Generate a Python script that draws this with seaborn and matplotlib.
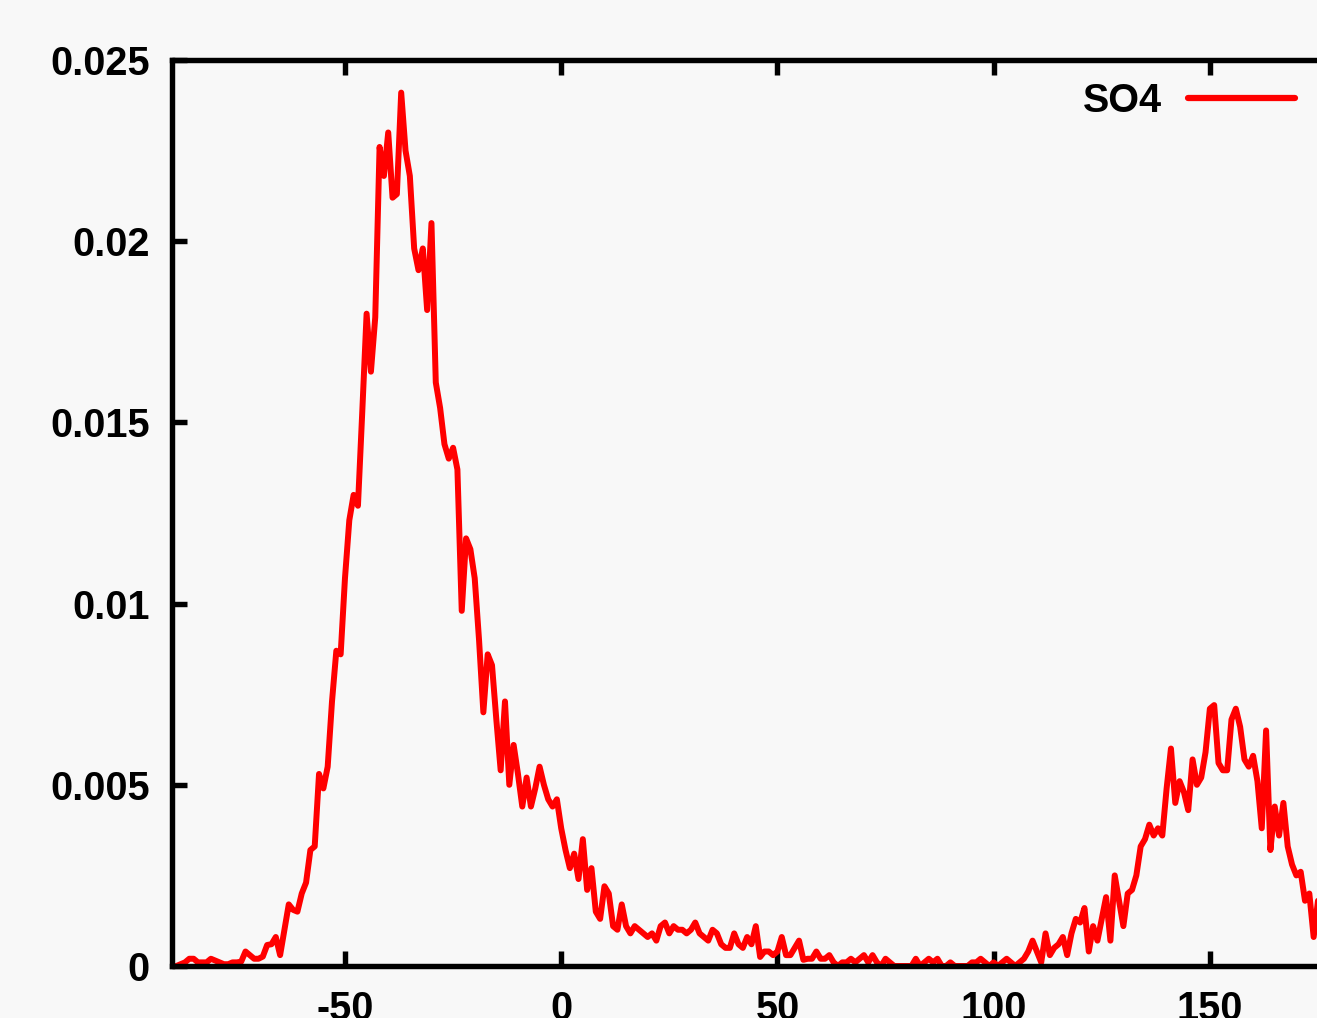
import numpy as np
import pandas as pd
import matplotlib
matplotlib.use("Agg")
import matplotlib.pyplot as plt
import seaborn as sns

# angle grid (1 unit steps) and SO4 distribution
x_vals = list(range(-89, 177))
so4 = [
    0.0000, 0.00005, 0.0001, 0.0002, 0.0002, 0.0001, 0.0001, 0.0001, 0.0002, 0.00015,
    0.0001, 0.00005, 0.00005, 0.0001, 0.0001, 0.00012, 0.0004, 0.0003, 0.0002, 0.0002,
    0.00026, 0.00058, 0.0006, 0.0008, 0.0003, 0.0010, 0.0017, 0.00155, 0.0015, 0.0020,
    0.0023, 0.0032, 0.0033, 0.0053, 0.0049, 0.0055,
    # -53 .. -1
    0.0073, 0.0087, 0.0086, 0.0107, 0.0123, 0.0130, 0.0127, 0.0153, 0.0180, 0.0164,
    0.0179, 0.0226, 0.0218, 0.0230, 0.0212, 0.0213, 0.0241, 0.0225, 0.0218, 0.0198,
    0.0192, 0.0198, 0.0181, 0.0205, 0.0161, 0.0154, 0.0144, 0.0140, 0.0143, 0.0137,
    0.0098, 0.0118, 0.0115, 0.0107, 0.0090, 0.0070, 0.0086, 0.0083, 0.0068, 0.0054,
    0.0073, 0.0050, 0.0061, 0.0053, 0.0044, 0.0052, 0.0044, 0.0049, 0.0055, 0.0050,
    0.0046, 0.0044, 0.0046,
    # 0 .. 49
    0.0038, 0.0032, 0.0027, 0.0031, 0.0024, 0.0035, 0.0021, 0.0027, 0.0015, 0.0013,
    0.0022, 0.0020, 0.0011, 0.0010, 0.0017, 0.0011, 0.0009, 0.0011, 0.0010, 0.0009,
    0.0008, 0.0009, 0.0007, 0.0011, 0.0012, 0.0009, 0.0011, 0.0010, 0.0010, 0.0009,
    0.0010, 0.0012, 0.0009, 0.0008, 0.0007, 0.0010, 0.0009, 0.0006, 0.0005, 0.0005,
    0.0009, 0.0006, 0.0005, 0.0008, 0.0006, 0.0011, 0.00025, 0.0004, 0.0004, 0.0003,
    # 50 .. 99
    0.0004, 0.0008, 0.0003, 0.0003, 0.0005, 0.0007, 0.00017, 0.0002, 0.0002, 0.0004,
    0.0002, 0.0002, 0.0003, 0.0001, 0.0000, 0.0001, 0.0001, 0.0002, 0.0001, 0.0002,
    0.0003, 0.0001, 0.0003, 0.0001, 0.0000, 0.0002, 0.0001, 0.0000, 0.0000, 0.0000,
    0.0000, 0.0000, 0.0002, 0.0000, 0.0001, 0.0002, 0.0001, 0.0002, 0.0000, 0.0000,
    0.0001, 0.0000, 0.0000, 0.0000, 0.0000, 0.0001, 0.0001, 0.0002, 0.0001, 0.0000,
    # 100 .. 149
    0.0001, 0.0000, 0.0001, 0.0002, 0.0001, 0.0000, 0.0001, 0.0002, 0.0004, 0.0007,
    0.0004, 0.0001, 0.0009, 0.0003, 0.0005, 0.0006, 0.0008, 0.0003, 0.0009, 0.0013,
    0.0012, 0.0016, 0.0004, 0.0011, 0.0007, 0.0013, 0.0019, 0.0007, 0.0025, 0.0018,
    0.0011, 0.0020, 0.0021, 0.0025, 0.0033, 0.0035, 0.0039, 0.0036, 0.0038, 0.0036,
    0.0049, 0.0060, 0.0045, 0.0051, 0.0048, 0.0043, 0.0057, 0.0050, 0.0052, 0.0059,
    # 150 .. 176
    0.0071, 0.0072, 0.0056, 0.0054, 0.0054, 0.0068, 0.0071, 0.0066, 0.0057, 0.0055,
    0.0058, 0.0051, 0.0038, 0.0065, 0.0032, 0.0044, 0.0036, 0.0045, 0.0033, 0.0028,
    0.0025, 0.0026, 0.0018, 0.0020, 0.0008, 0.0018, 0.0015,
]
x_ticks = [-50, 0, 50, 100, 150]
y_ticks = [0, 0.005, 0.01, 0.015, 0.02, 0.025]
y_labels = ["0", "0.005", "0.01", "0.015", "0.02", "0.025"]

df = pd.DataFrame({"x": x_vals, "SO4": so4})

sns.set_style("ticks")
plt.rcParams["font.family"] = ["Liberation Sans", "DejaVu Sans"]
plt.rcParams["font.weight"] = "bold"
plt.rcParams["text.color"] = "black"

bg = "#f8f8f8"
fig = plt.figure(figsize=(13.17, 10.18), dpi=100, facecolor=bg)
# right border of the original sits outside the picture
ax = fig.add_axes([172 / 1317, 52 / 1018, (1339.6 - 172) / 1317, 906 / 1018])
ax.set_facecolor(bg)

sns.lineplot(data=df, x="x", y="SO4", color="#ff0000", lw=4.3, label="SO4", ax=ax)

ax.set_xlim(-90, 180)
ax.set_ylim(0, 0.025)
ax.set_xticks(x_ticks)
ax.set_xticklabels([str(t) for t in x_ticks])
ax.set_yticks(y_ticks)
ax.set_yticklabels(y_labels)
ax.set_xlabel("")
ax.set_ylabel("")

for s in ax.spines.values():
    s.set_linewidth(3.9)
    s.set_color("black")
ax.tick_params(direction="in", length=11, width=3.9, labelsize=28.5,
               top=True, right=True, colors="black")
ax.tick_params(axis="y", pad=16)
ax.tick_params(axis="x", pad=17)
for lab in ax.get_xticklabels() + ax.get_yticklabels():
    lab.set_fontweight("bold")

leg = ax.legend(loc="upper right", bbox_to_anchor=(1295 / 1317, 1 - 82 / 1018),
                bbox_transform=fig.transFigure, frameon=False, markerfirst=False,
                handlelength=2.7, handletextpad=0.65, borderpad=0, borderaxespad=0,
                prop={"size": 28.5, "weight": "bold"})
for t in leg.get_texts():
    t.set_color("black")
for h in leg.get_lines():
    h.set_linewidth(4.5)

fig.savefig("out.png", dpi=100, facecolor=bg)
